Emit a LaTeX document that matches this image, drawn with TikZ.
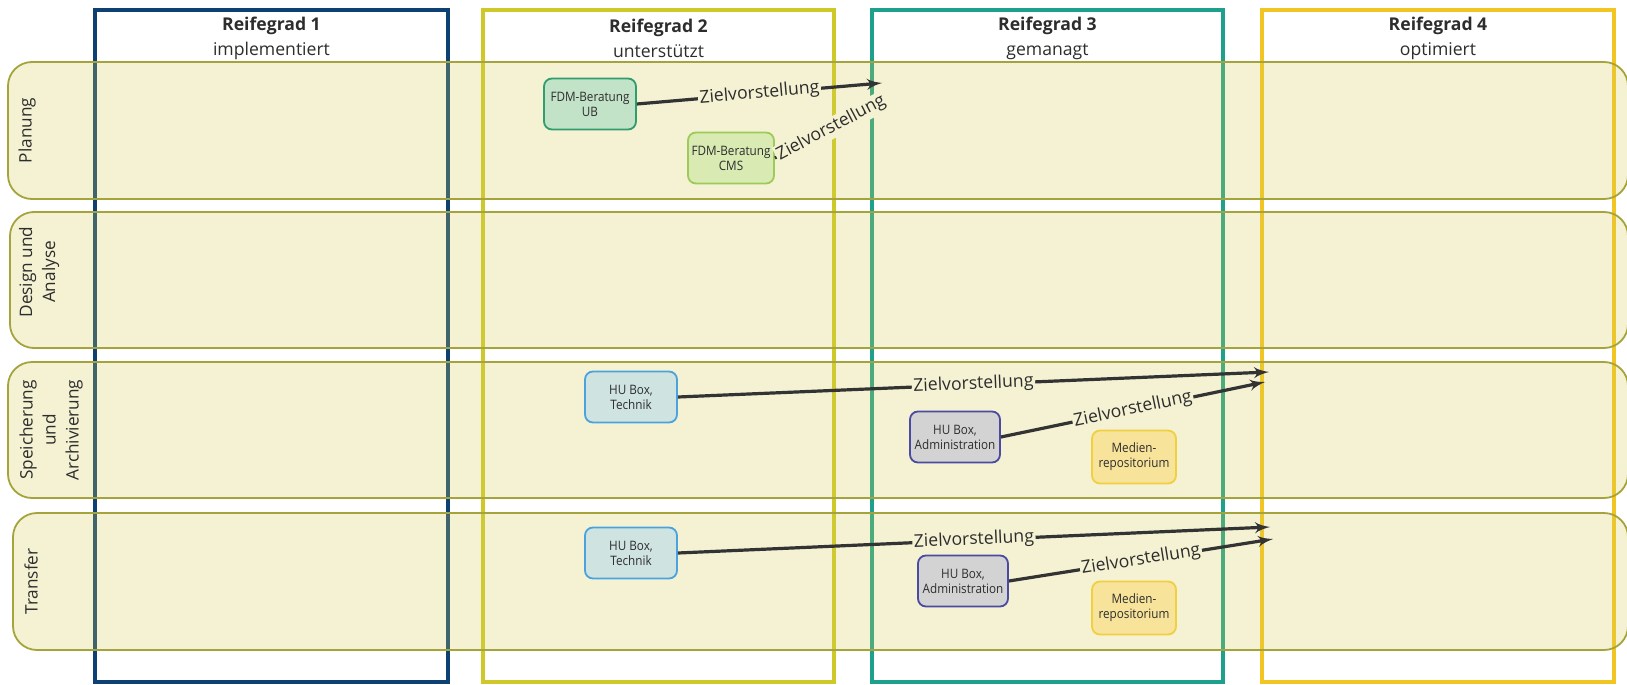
\documentclass[tikz,border=0pt]{standalone}
\usepackage{fontspec}
\setmainfont{Open Sans}
\newfontfamily\boxfont[FakeStretch=0.9]{Open Sans}
\usepackage{tikz}
\usetikzlibrary{arrows,calc,fit,positioning}
\tikzset{every picture/.style={
  >=latex'                      % LaTeX style arrows.
  }
}
\definecolor{reifeA}{RGB}{13,65,116}
\definecolor{reifeB}{RGB}{206,201,40}
\definecolor{reifeC}{RGB}{30,160,140}
\definecolor{reifeD}{RGB}{242,197,34}
\definecolor{laneline}{RGB}{165,163,60}
\definecolor{lanefill}{RGB}{215,205,80}
\definecolor{labelbg}{RGB}{245,242,211}
\definecolor{ubline}{RGB}{46,158,110}
\definecolor{ubfill}{RGB}{195,227,201}
\definecolor{cmsline}{RGB}{156,203,90}
\definecolor{cmsfill}{RGB}{217,235,179}
\definecolor{techline}{RGB}{74,163,223}
\definecolor{techfill}{RGB}{207,227,224}
\definecolor{admline}{RGB}{74,74,160}
\definecolor{admfill}{RGB}{211,211,211}
\definecolor{medline}{RGB}{240,208,64}
\definecolor{medfill}{RGB}{247,227,154}
\definecolor{darkline}{RGB}{51,51,51}
\definecolor{textgray}{RGB}{45,45,45}

\begin{document}
\begin{tikzpicture}[
    x=0.5pt,
    y=-0.5pt,
    col/.style={
      draw=#1,
      line width=2pt,
      fill=white,
      inner sep=0pt
    },
    lane/.style={
      draw=laneline,
      line width=0.9pt,
      rounded corners=12pt,
      fill=lanefill,
      fill opacity=0.25,
      inner sep=0pt
    },
    head/.style={
      align=center,
      text=textgray,
      font=\fontsize{8.8}{12.5}\selectfont
    },
    lanetext/.style={
      rotate=90,
      align=center,
      text=textgray,
      font=\fontsize{8.6}{11.5}\selectfont
    },
    box/.style 2 args={
      rectangle,
      rounded corners=4pt,
      draw=#1,
      fill=#2,
      line width=0.9pt,
      minimum height=25.5pt,
      inner sep=1pt,
      align=center,
      text=textgray,
      font=\boxfont\fontsize{6.5}{7.5}\selectfont
    },
    flow/.style={
      ->,
      draw=darkline,
      line width=1.6pt
    },
    goal/.style={
      sloped,
      fill=labelbg,
      inner sep=0.8pt,
      text=textgray,
      font=\fontsize{8.8}{10}\selectfont
    }]

    \fill[white] (0,0) rectangle (1627,685);
    \useasboundingbox (0,0) rectangle (1627,685);

    % Draw the four maturity columns.
    \foreach \i/\xa/\xb/\c in {1/95/448/reifeA,2/483/834/reifeB,
      3/872/1223/reifeC,4/1262/1614/reifeD} {
      \node[col=\c,fit={(\xa,10) (\xb,682)}] (c\i) {};
    }

    % Lay the phases across the columns.
    \foreach \i/\xa/\ya/\yb in {1/8/62/199,2/10/212/348,3/8/362/498,
      4/13/513/650} {
      \node[lane,fit={(\xa,\ya) (1628,\yb)}] (l\i) {};
    }

    % Label the columns.
    \foreach \i/\t in {1/implementiert,2/unterstützt,3/gemanagt,4/optimiert} {
      \node[head] (h\i) at ($(c\i.north)+(0,30)$)
        {\textbf{Reifegrad \i}\\\t};
    }

    % Label the phases.
    \node[lanetext] (t1) at ($(l1.west)+(20,0)$) {Planung};
    \node[lanetext] (t2) at ($(l2.west)+(30,-8)$) {Design und\\Analyse};
    \node[lanetext] (t3) at ($(l3.west)+(44,0)$)
      {Speicherung\\und\\Archivierung};
    \node[lanetext] (t4) at ($(l4.west)+(19,0)$) {Transfer};

    % Services in the planning phase.
    \node[box={ubline}{ubfill},minimum width=46pt] (ub) at (590,104)
      {FDM-Beratung\\UB};
    \node[box={cmsline}{cmsfill},minimum width=43pt] (cms) at (731,158)
      {FDM-Beratung\\CMS};

    % Services in storage and transfer.
    \node[box={techline}{techfill},minimum width=46pt] (tech1) at (631,397)
      {HU Box,\\Technik};
    \node[box={admline}{admfill},minimum width=45pt] (adm1) at (955,437)
      {HU Box,\\Administration};
    \node[box={medline}{medfill},minimum width=42pt,minimum height=26.5pt]
      (med1) at (1134,457) {Medien-\\repositorium};
    \node[box={techline}{techfill},minimum width=46pt] (tech2) at (631,553)
      {HU Box,\\Technik};
    \node[box={admline}{admfill},minimum width=45pt] (adm2) at (963,581)
      {HU Box,\\Administration};
    \node[box={medline}{medfill},minimum width=42pt,minimum height=26.5pt]
      (med2) at (1134,608) {Medien-\\repositorium};

    % Targets of the arrows.
    \coordinate (e1) at (882,83);
    \coordinate (e2) at (883,101);
    \coordinate (e3) at (1269,372);
    \coordinate (e4) at (1265,382);
    \coordinate (e5) at (1270,527);
    \coordinate (e6) at (1273,539);

    % Draw the arrows towards the next level.
    \draw[flow] (ub.east) -- node[goal] {Zielvorstellung} (e1);
    \draw[flow] (cms.east) -- node[goal,pos=0.52] {Zielvorstellung} (e2);
    \draw[flow] (tech1.east) -- node[goal] {Zielvorstellung} (e3);
    \draw[flow] (adm1.east) -- node[goal] {Zielvorstellung} (e4);
    \draw[flow] (tech2.east) -- node[goal] {Zielvorstellung} (e5);
    \draw[flow] (adm2.east) -- node[goal] {Zielvorstellung} (e6);
  \end{tikzpicture}
\end{document}
